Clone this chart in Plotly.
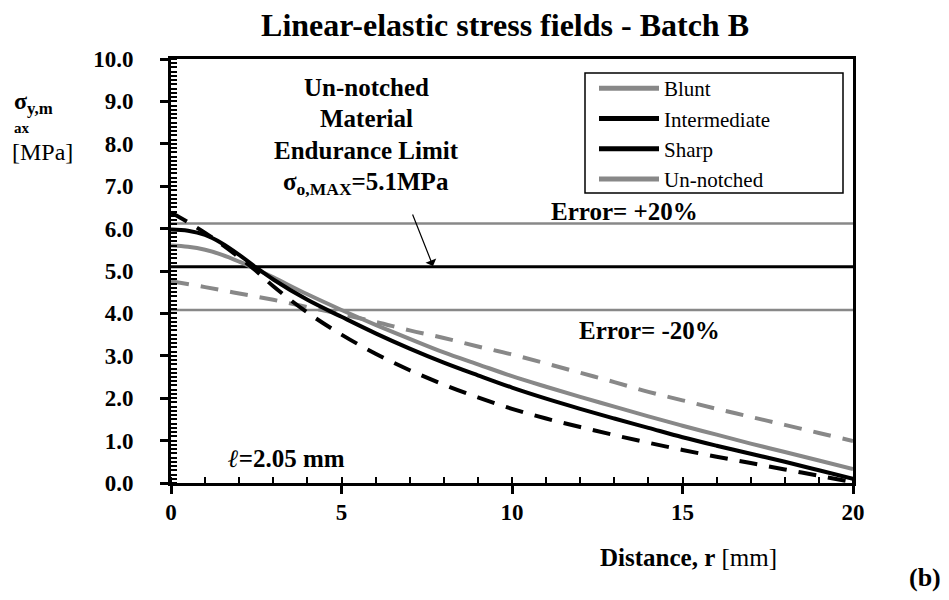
import plotly.graph_objects as go

# ---------------- data ----------------
x_blunt = [0, 0.5, 1, 1.5, 2, 2.5, 3, 4, 5, 6, 7, 8, 9, 10, 11, 12, 13, 14, 15, 16, 17, 18, 19, 20]
y_blunt = [5.6, 5.57, 5.5, 5.38, 5.22, 5.04, 4.85, 4.45, 4.08, 3.73, 3.4, 3.08, 2.8, 2.52, 2.27, 2.03,
           1.8, 1.57, 1.35, 1.14, 0.93, 0.73, 0.53, 0.33]

x_inter = [0, 0.5, 1, 1.5, 2, 2.5, 3, 4, 5, 6, 7, 8, 9, 10, 11, 12, 13, 14, 15, 16, 17, 18, 19, 20]
y_inter = [5.98, 5.95, 5.85, 5.65, 5.38, 5.08, 4.8, 4.32, 3.92, 3.53, 3.17, 2.84, 2.54, 2.25, 1.99, 1.75,
           1.52, 1.3, 1.08, 0.88, 0.69, 0.5, 0.3, 0.1]

x_sharp = [0, 0.5, 1, 1.5, 2, 2.5, 3, 4, 5, 6, 7, 8, 9, 10, 11, 12, 13, 14, 15, 16, 17, 18, 19, 20]
y_sharp = [6.38, 6.15, 5.9, 5.62, 5.32, 5.0, 4.64, 4.02, 3.5, 3.05, 2.66, 2.32, 2.02, 1.75, 1.52, 1.32,
           1.13, 0.95, 0.78, 0.62, 0.47, 0.32, 0.17, 0.02]

x_unnot = [0, 1, 2, 3, 4, 5, 6, 7, 8, 9, 10, 11, 12, 13, 14, 15, 16, 17, 18, 19, 20]
y_unnot = [4.76, 4.62, 4.47, 4.32, 4.15, 3.98, 3.8, 3.6, 3.42, 3.22, 3.03, 2.82, 2.6, 2.38, 2.15, 1.95,
           1.75, 1.56, 1.37, 1.18, 0.99]

endurance_limit = 5.1
error_band = 0.20
x_span = [0, 20]

y_ticks = [0, 1, 2, 3, 4, 5, 6, 7, 8, 9, 10]
x_ticks = [0, 5, 10, 15, 20]

GRAY = "#888888"
BLACK = "#000000"
FONT = "Liberation Serif"

# page offset (default body margin) and plot-area pixel box
OFF = 8
W, H = 949 - OFF, 600 - OFF
L, R, T, B = 171, 853, 59, 483


def px2x(px):
    return (px - L) / (R - L) * 20


def py2y(py):
    return (B - py) / (B - T) * 10


def ppx(px):
    return (px - L) / (R - L)


def ppy(py):
    return (B - py) / (B - T)


fig = go.Figure()

# reference lines
upper = endurance_limit * (1 + error_band)
lower = endurance_limit * (1 - error_band)
fig.add_trace(go.Scatter(x=x_span, y=[upper, upper], mode="lines",
                         line=dict(color=GRAY, width=2.5), showlegend=False, hoverinfo="skip"))
fig.add_trace(go.Scatter(x=x_span, y=[endurance_limit, endurance_limit], mode="lines",
                         line=dict(color=BLACK, width=3), showlegend=False, hoverinfo="skip"))
fig.add_trace(go.Scatter(x=x_span, y=[lower, lower], mode="lines",
                         line=dict(color=GRAY, width=2.5), showlegend=False, hoverinfo="skip"))

# curves
fig.add_trace(go.Scatter(x=x_unnot, y=y_unnot, mode="lines",
                         line=dict(color=GRAY, width=4, dash="18px,12px", shape="spline"), showlegend=False))
fig.add_trace(go.Scatter(x=x_blunt, y=y_blunt, mode="lines",
                         line=dict(color=GRAY, width=4, shape="spline"), showlegend=False))
fig.add_trace(go.Scatter(x=x_inter, y=y_inter, mode="lines",
                         line=dict(color=BLACK, width=4, shape="spline"), showlegend=False))
fig.add_trace(go.Scatter(x=x_sharp, y=y_sharp, mode="lines",
                         line=dict(color=BLACK, width=4, dash="18px,12px", shape="spline"), showlegend=False))

# legend entries (solid samples as in the reference)
for name, col in [("Blunt", GRAY), ("Intermediate", BLACK), ("Sharp", BLACK), ("Un-notched", GRAY)]:
    fig.add_trace(go.Scatter(x=[None], y=[None], mode="lines", name=name,
                             line=dict(color=col, width=5)))

ann = []
bold = dict(family=FONT, size=25, color="black", weight="bold")
# un-notched material annotation
for txt, py in [("Un-notched", 87), ("Material", 118), ("Endurance Limit", 150),
                ("σ<sub>o,MAX</sub>=5.1MPa", 183)]:
    ann.append(dict(x=px2x(366), y=py2y(py), xref="x", yref="y", text=txt, showarrow=False,
                    font=bold, xanchor="center", yanchor="middle"))
ann.append(dict(x=px2x(433), y=py2y(266), ax=px2x(412), ay=py2y(213), axref="x", ayref="y",
                xref="x", yref="y", text="", showarrow=True, arrowhead=1, arrowsize=1.6,
                arrowwidth=1.2, arrowcolor="black"))
ann.append(dict(x=px2x(549), y=py2y(211), xref="x", yref="y", text="Error= +20%", showarrow=False,
                font=bold, xanchor="left", yanchor="middle"))
ann.append(dict(x=px2x(577), y=py2y(330), xref="x", yref="y", text="Error= -20%", showarrow=False,
                font=bold, xanchor="left", yanchor="middle"))
ann.append(dict(x=px2x(226), y=py2y(458), xref="x", yref="y", text="<i>ℓ</i>=2.05 mm", showarrow=False,
                font=bold, xanchor="left", yanchor="middle"))
# y-axis label
ann.append(dict(x=ppx(12), y=ppy(103), xref="paper", yref="paper", text="<b>σ<sub>y,m</sub></b>",
                showarrow=False, font=dict(family=FONT, size=24, color="black"),
                xanchor="left", yanchor="middle"))
ann.append(dict(x=ppx(12), y=ppy(128), xref="paper", yref="paper", text="<b>ax</b>", showarrow=False,
                font=dict(family=FONT, size=15, color="black"), xanchor="left", yanchor="middle"))
ann.append(dict(x=ppx(10), y=ppy(152), xref="paper", yref="paper", text="[MPa]", showarrow=False,
                font=dict(family=FONT, size=24, color="black"), xanchor="left", yanchor="middle"))
# x-axis label
ann.append(dict(x=ppx(688), y=ppy(557), xref="paper", yref="paper",
                text="<b>Distance, r</b> [mm]", showarrow=False,
                font=dict(family=FONT, size=25, color="black"), xanchor="center", yanchor="middle"))
ann.append(dict(x=ppx(925), y=ppy(577), xref="paper", yref="paper",
                text="<b>(b)</b>", showarrow=False,
                font=dict(family=FONT, size=26, color="black"), xanchor="center", yanchor="middle"))

# legend frame (the reference box is wider than plotly's auto-sized legend)
shapes = [dict(type="rect", xref="paper", yref="paper", x0=ppx(585), x1=ppx(843), y0=ppy(193), y1=ppy(73),
               line=dict(color="black", width=1.5), fillcolor="white", layer="above")]

fig.update_layout(
    width=W, height=H,
    margin=dict(l=L - OFF, r=949 - R, t=T - OFF, b=600 - B, autoexpand=False),
    paper_bgcolor="white", plot_bgcolor="white",
    title=dict(text="<b>Linear-elastic stress fields - Batch B</b>", x=(505 - OFF) / W, xanchor="center",
               y=1 - (25 - OFF) / H, yanchor="middle",
               font=dict(family=FONT, size=32, color="black")),
    showlegend=True,
    legend=dict(x=ppx(594), y=ppy(68), xanchor="left", yanchor="top",
                bgcolor="rgba(0,0,0,0)", borderwidth=0,
                font=dict(family=FONT, size=21, color="black"),
                tracegroupgap=0, itemwidth=60),
    annotations=ann,
    shapes=shapes,
)
fig.update_xaxes(range=x_span, tickvals=x_ticks, ticktext=[str(v) for v in x_ticks],
                 showgrid=False, zeroline=False, showline=True, linecolor="black", linewidth=3,
                 mirror=True, ticks="outside", ticklen=8, tickwidth=3, tickcolor="black",
                 tickfont=dict(family=FONT, size=23, color="black", weight="bold"),
                 ticklabelstandoff=-2, automargin=False,
                 minor=dict(dtick=1, ticks="inside", ticklen=6, tickwidth=2, tickcolor="black"))
fig.update_yaxes(range=[0, 10], tickvals=y_ticks, ticktext=[f"{v:.1f}" for v in y_ticks],
                 showgrid=False, zeroline=False, showline=True, linecolor="black", linewidth=3,
                 mirror=True, ticks="outside", ticklen=8, tickwidth=3, tickcolor="black",
                 tickfont=dict(family=FONT, size=23, color="black", weight="bold"),
                 ticklabelstandoff=22, automargin=False,
                 minor=dict(dtick=0.1, ticks="inside", ticklen=6, tickwidth=1.5, tickcolor="black"))

fig.write_html("out.html")
